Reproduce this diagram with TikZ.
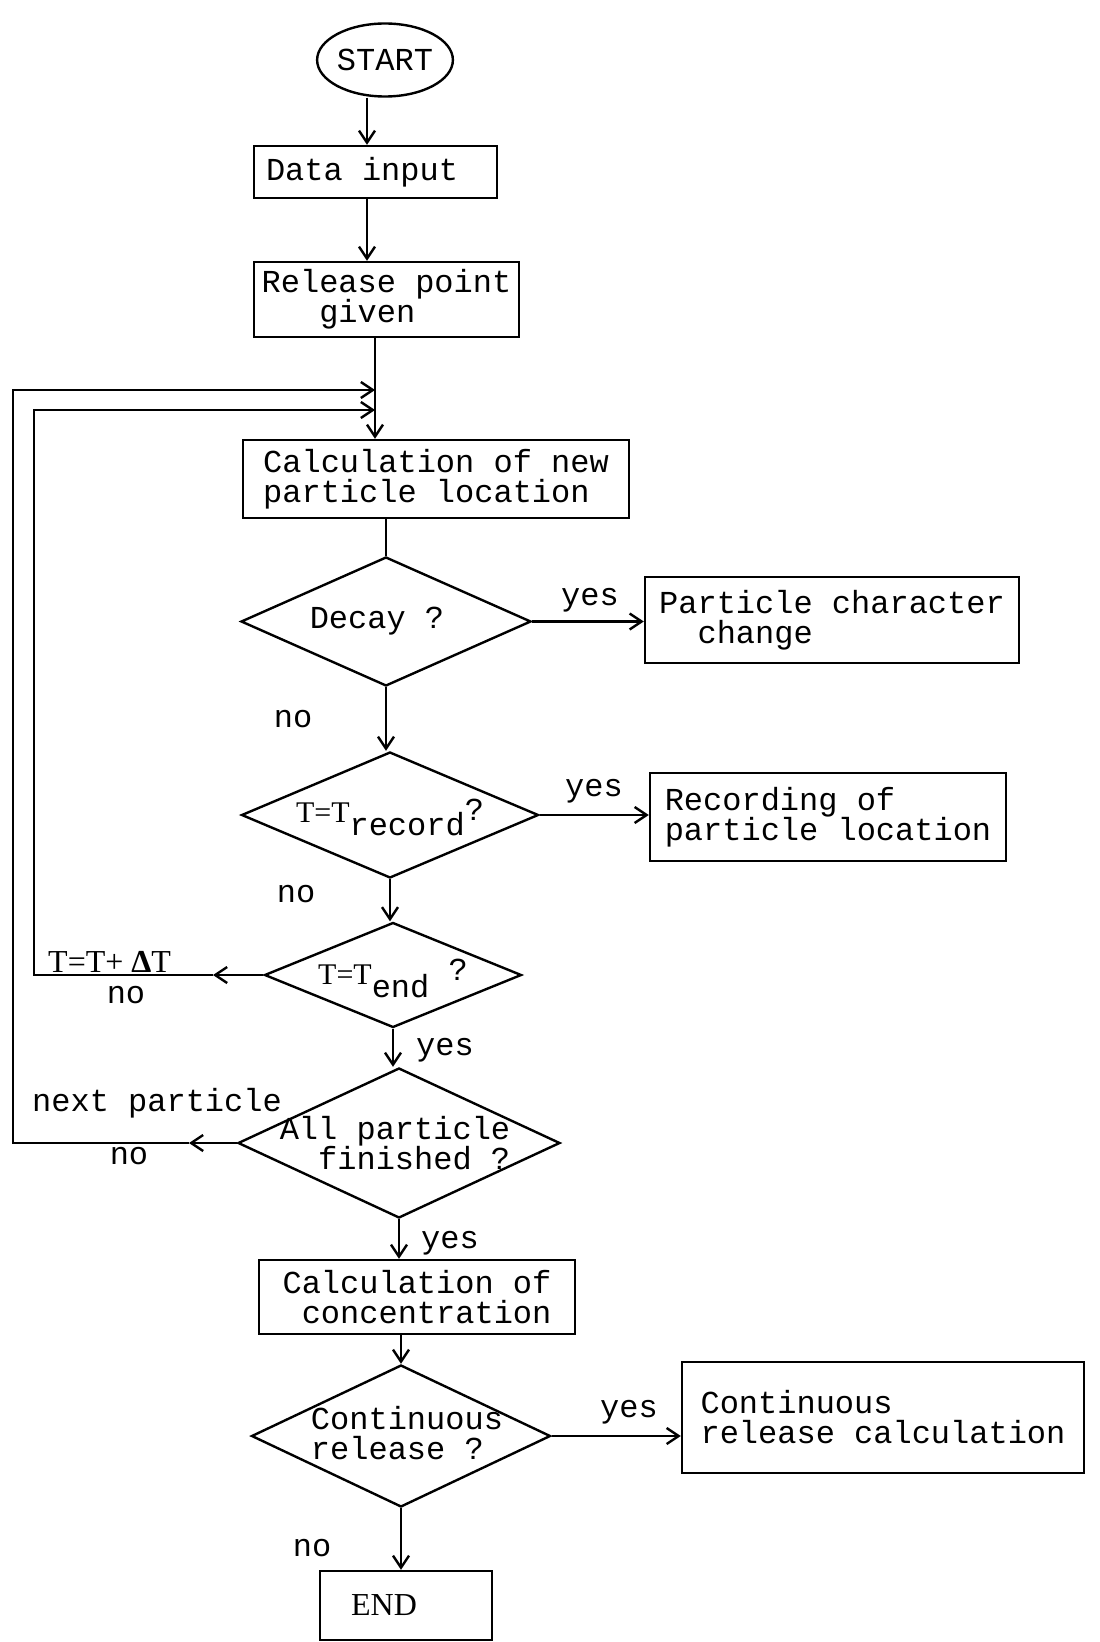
\documentclass[tikz,border=0pt]{standalone}
\usepackage{fontspec}
\setmainfont{Liberation Mono}
\newfontfamily\serifT{Liberation Serif}
\usetikzlibrary{shapes.geometric,arrows.meta}
\newdimen\pxu \pxu=0.5pt
\begin{document}
\begin{tikzpicture}[x=0.5pt,y=-0.5pt,
  every node/.style={font=\fontsize{16}{15}\selectfont},
  line width=1.2pt,
  arr/.style={-{Straight Barb[length=6pt,width=8pt]}},
  boxn/.style={draw, rectangle, inner sep=0pt, align=left},
  dia/.style={draw, diamond, inner sep=0pt},
  lbl/.style={inner sep=0pt},
  sr/.style={font=\fontsize{16}{16}\selectfont\serifT},
]
\useasboundingbox (0,0) rectangle (1099,1642);

% main column nodes
\node[draw, ellipse, inner sep=0pt, minimum width=131\pxu, minimum height=73\pxu] (start) at (385,60) {START};
\node[boxn, minimum width=243\pxu, minimum height=52\pxu] (data) at (375.5,172) {Data input\hspace*{0.84em}};
\node[boxn, minimum width=265\pxu, minimum height=75\pxu] (rel) at (386.5,299.5) {Release point\\\hspace*{1.8em}given};
\node[boxn, minimum width=386\pxu, minimum height=78\pxu] (calc) at (436,479) {Calculation of new\\particle location};
\node[dia, minimum width=290\pxu, minimum height=129\pxu,
      label={[lbl, xshift=-9\pxu]center:Decay ?}] (decay) at (386,621.5) {};
\node[boxn, minimum width=374\pxu, minimum height=86\pxu] (pcc) at (832,620) {Particle character\\\hspace*{1.2em}change};
\node[dia, minimum width=297\pxu, minimum height=126\pxu,
      label={[lbl, yshift=-2\pxu]center:{{\serifT\fontsize{15}{15}\selectfont T=T}\raisebox{-13\pxu}{record}\raisebox{2\pxu}{?}}}] (trec) at (390,815) {};
\node[boxn, minimum width=356\pxu, minimum height=88\pxu] (recb) at (828,817) {Recording of\\particle location};
\node[dia, minimum width=257\pxu, minimum height=105\pxu,
      label={[lbl, yshift=-3\pxu]center:{{\serifT\fontsize{15}{15}\selectfont T=T}\raisebox{-13\pxu}{end}\hspace{0.6em}\raisebox{4\pxu}{?}}}] (tend) at (393,975) {};
\node[dia, minimum width=322\pxu, minimum height=150\pxu,
      label={[lbl, align=left, xshift=-4\pxu]center:All particle\\\hspace*{1.2em}finished ?}] (allp) at (399,1143) {};
\node[boxn, minimum width=316\pxu, minimum height=74\pxu] (conc) at (417,1297) {Calculation of\\\hspace*{0.6em}concentration};
\node[dia, minimum width=299\pxu, minimum height=142\pxu,
      label={[lbl, align=left, xshift=6\pxu, yshift=3\pxu]center:Continuous\\release ?}] (cont) at (401,1436) {};
\node[boxn, minimum width=402\pxu, minimum height=111\pxu] (crc) at (883,1417.5) {Continuous\\release calculation};
\node[boxn, minimum width=172\pxu, minimum height=69\pxu, sr] (endb) at (406,1605.5) {END\hspace*{44\pxu}};

% helper coordinates
\coordinate (colA) at (367,0);
\coordinate (colB) at (375,0);
\coordinate (jo) at (375,390);
\coordinate (ji) at (375,410);
\coordinate (oa) at (189,1143);
\coordinate (ol) at (13,1143);
\coordinate (ia) at (213,975);
\coordinate (il) at (34,975);

% connectors
\draw[arr] (start.south -| colA) -- (data.north -| colA);
\draw[arr] (data.south -| colA) -- (rel.north -| colA);
\draw[arr] (rel.south -| colB) -- (calc.north -| colB);
\draw (calc.south -| decay.north) -- (decay.north);
\draw[arr] (decay.east) -- (decay.east -| pcc.west);
\draw[arr] (decay.south) -- (decay.south |- trec.north);
\draw[arr] (trec.east) -- (trec.east -| recb.west);
\draw[arr] (trec.south) -- (trec.south |- tend.north);
\draw[arr] (tend.south) -- (tend.south |- allp.north);
\draw[arr] (allp.south) -- (allp.south |- conc.north);
\draw[arr] (conc.south -| cont.north) -- (cont.north);
\draw[arr] (cont.east) -- (cont.east -| crc.west);
\draw[arr] (cont.south) -- (endb.north -| cont.south);

% loops
\draw[arr] (tend.west) -- (ia);
\draw[arr] (ia) -- (il) |- (ji);
\draw[arr] (allp.west) -- (oa);
\draw[arr] (oa) -- (ol) |- (jo);

% labels
\node[lbl] (y1) at (590,600) {yes};
\node[lbl] (n1) at (293,719) {no};
\node[lbl] (y2) at (594,791) {yes};
\node[lbl] (n2) at (296,894) {no};
\node[lbl, sr, anchor=west] (dt) at (47,962) {T=T+ \textbf{Δ}T};
\node[lbl] (n3) at (126,995) {no};
\node[lbl] (y3) at (445,1050) {yes};
\node[lbl] (np) at (157,1103) {next particle};
\node[lbl] (n4) at (129,1156) {no};
\node[lbl] (y4) at (450,1243) {yes};
\node[lbl] (y5) at (629,1412) {yes};
\node[lbl] (n5) at (312,1548) {no};
\end{tikzpicture}
\end{document}
